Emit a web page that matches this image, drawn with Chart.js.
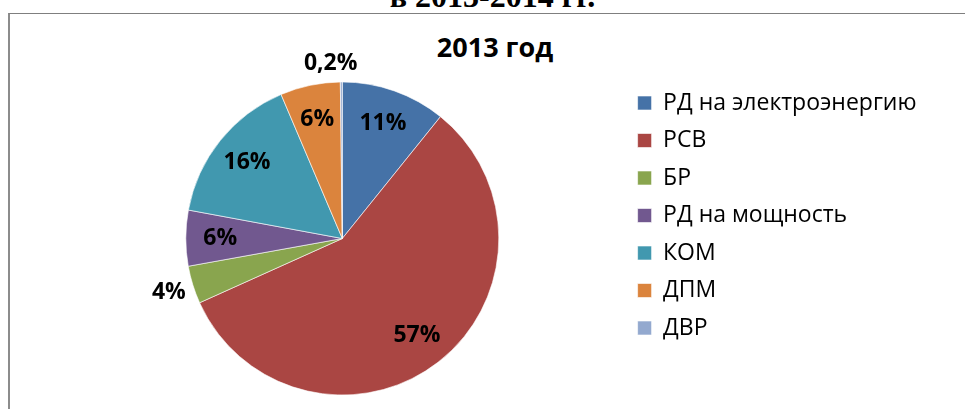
<!DOCTYPE html>
<html lang="ru">
<head>
<meta charset="utf-8">
<script src="https://cdn.jsdelivr.net/npm/chart.js@4/dist/chart.umd.min.js"></script>
<style>
    html, body {
        margin: 0;
        padding: 0;
        background: #ffffff;
        overflow: hidden;
    }
    #page {
        position: relative;
        width: 965px;
        height: 409px;
        overflow: hidden;
    }
    #frame {
        position: absolute;
        left: 8px;
        top: 13px;
        width: 1000px;
        height: 500px;
        border-top: 1px solid #7f7f7f;
        border-left: 2px solid #8c8c8c;
    }
    #heading {
        position: absolute;
        left: 0;
        width: 985px;
        top: -20px;
        text-align: center;
        font: bold 32px/32px "Liberation Serif", "Times New Roman", serif;
        color: #000;
        white-space: nowrap;
    }
    #title {
        position: absolute;
        left: 0;
        width: 990px;
        top: 33px;
        text-align: center;
        font: bold 27px/27px "Open Sans", sans-serif;
        color: #000;
        white-space: nowrap;
    }
    #chartBox {
        position: absolute;
        left: 0;
        top: 0;
        width: 965px;
        height: 409px;
    }
</style>
</head>
<body>
<div id="page">
    <div id="frame"></div>
    <div id="heading">в 2013-2014 гг.</div>
    <div id="title">2013 год</div>
    <div id="chartBox"><canvas id="pieChart"></canvas></div>
</div>

<script>
// Данные диаграммы (доли, %)
const categories = ['РД на электроэнергию', 'РСВ', 'БР', 'РД на мощность', 'КОМ', 'ДПМ', 'ДВР'];
const shares = [10.8, 57.5, 3.9, 5.75, 15.7, 6.2, 0.2];
const shareLabels = ['11%', '57%', '4%', '6%', '16%', '6%', '0,2%'];
const sliceColors = ['#4572A7', '#AA4643', '#89A54E', '#71588F', '#4198AF', '#DB843D', '#93A9CF'];

// Подписи долей: внутри сектора, у маленьких - снаружи
const sliceLabelPlugin = {
    id: 'sliceLabels',
    afterDatasetsDraw(chart) {
        const ctx = chart.ctx;
        const meta = chart.getDatasetMeta(0);
        ctx.save();
        ctx.font = 'bold 23px "Open Sans", sans-serif';
        ctx.fillStyle = '#000';
        ctx.textAlign = 'center';
        ctx.textBaseline = 'middle';
        meta.data.forEach((arc, i) => {
            const p = arc.getProps(['x', 'y', 'startAngle', 'endAngle', 'outerRadius'], true);
            const mid = (p.startAngle + p.endAngle) / 2;
            let k = 0.78;
            let angle = mid;
            if (shares[i] < 1) {
                k = 1.12;
                angle = mid - 0.06;
            } else if (shares[i] < 5) {
                k = 1.16;
            }
            const r = p.outerRadius * k;
            ctx.fillText(shareLabels[i], p.x + Math.cos(angle) * r, p.y + Math.sin(angle) * r);
        });
        ctx.restore();
    }
};

const ctx = document.getElementById('pieChart').getContext('2d');

new Chart(ctx, {
    type: 'pie',
    data: {
        labels: categories,
        datasets: [{
            data: shares,
            backgroundColor: sliceColors,
            borderColor: 'rgba(255, 255, 255, 0.6)',
            borderWidth: 1,
            radius: 156.5
        }]
    },
    options: {
        responsive: true,
        maintainAspectRatio: false,
        animation: false,
        layout: {
            padding: { top: 77, bottom: 9, left: 61.5, right: 38.5 }
        },
        plugins: {
            legend: {
                position: 'right',
                align: 'start',
                labels: {
                    boxWidth: 14,
                    boxHeight: 14,
                    padding: 14.5,
                    color: '#000',
                    font: { family: '"Open Sans", sans-serif', size: 23 }
                }
            },
            tooltip: { enabled: false },
            title: { display: false }
        }
    },
    plugins: [sliceLabelPlugin]
});
</script>
</body>
</html>
